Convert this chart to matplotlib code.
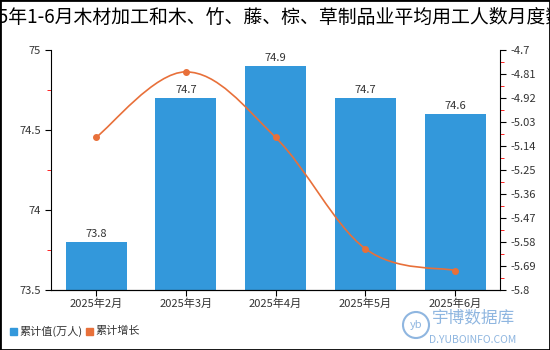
import matplotlib.pyplot as plt
import numpy as np
from matplotlib.path import Path
from matplotlib.patches import PathPatch, Rectangle, Ellipse
from matplotlib.ticker import MultipleLocator, FixedLocator

plt.rcParams['font.family'] = ['Noto Sans CJK SC', 'DejaVu Sans']

months = ['2025年2月', '2025年3月', '2025年4月', '2025年5月', '2025年6月']
workers = [73.8, 74.7, 74.9, 74.7, 74.6]  # 累计值(万人)
growth = [-5.10, -4.80, -5.10, -5.61, -5.71]  # 累计增长 %
right_ticks = [-4.7, -4.81, -4.92, -5.03, -5.14, -5.25, -5.36, -5.47, -5.58, -5.69, -5.8]

bar_color = '#3398DB'
line_color = '#E8703A'

fig = plt.figure(figsize=(5.5, 3.5), dpi=100)
ax = fig.add_axes([0.093, 0.171, 0.816, 0.686])
x = np.arange(len(months))

bars = ax.bar(x, workers, width=0.68, color=bar_color, zorder=2)
for xi, v in zip(x, workers):
    ax.text(xi, v + 0.02, f'{v}', ha='center', va='bottom', fontsize=8, color='#333333')

ax.set_xlim(-0.5, len(months) - 0.5)
ax.set_ylim(73.5, 75)
ax.set_yticks([73.5, 74, 74.5, 75])
ax.set_yticklabels(['73.5', '74', '74.5', '75'])
ax.yaxis.set_minor_locator(MultipleLocator(0.25))
ax.tick_params(axis='y', which='minor', length=3, color='red')
ax.tick_params(axis='y', which='major', length=4, labelsize=8, labelcolor='#333333')
ax.set_xticks(x)
ax.set_xticklabels(months)
ax.tick_params(axis='x', length=4, labelsize=8, labelcolor='#333333', pad=2)
ax.spines['top'].set_visible(False)
ax.spines['right'].set_visible(False)

ax2 = ax.twinx()
ax2.set_ylim(-5.8, -4.7)
ax2.yaxis.set_major_locator(FixedLocator(right_ticks))
ax2.set_yticklabels([f'{t:g}' for t in right_ticks])
minor = [(a + b) / 2 for a, b in zip(right_ticks[:-1], right_ticks[1:])]
ax2.yaxis.set_minor_locator(FixedLocator(minor))
ax2.tick_params(axis='y', which='minor', length=3, color='red')
ax2.tick_params(axis='y', which='major', length=4, labelsize=8, labelcolor='#333333')
ax2.spines['top'].set_visible(False)
ax2.spines['left'].set_visible(False)

# smooth curve through the points (Catmull-Rom style bezier)
pts = np.column_stack([x, growth]).astype(float)
verts = [tuple(pts[0])]
codes = [Path.MOVETO]
k = 0.35
for i in range(len(pts) - 1):
    p0 = pts[i - 1] if i > 0 else pts[i]
    p1, p2 = pts[i], pts[i + 1]
    p3 = pts[i + 2] if i + 2 < len(pts) else pts[i + 1]
    c1 = p1 + (p2 - p0) * k / 2
    c2 = p2 - (p3 - p1) * k / 2
    verts += [tuple(c1), tuple(c2), tuple(p2)]
    codes += [Path.CURVE4] * 3
ax2.add_patch(PathPatch(Path(verts, codes), facecolor='none', edgecolor=line_color, lw=1.2, zorder=3))
ax2.plot(x, growth, 'o', color=line_color, markersize=4, zorder=4)

fig.text(0.5, 0.95, '2025年1-6月木材加工和木、竹、藤、棕、草制品业平均用工人数月度数据',
         ha='center', va='center', fontsize=13.6, color='black')

# legend
fig.patches.append(Rectangle((10 / 550, 1 - 335 / 350), 7 / 550, 7 / 350, transform=fig.transFigure,
                             color=bar_color))
fig.text(19 / 550, 1 - 331 / 350, '累计值(万人)', fontsize=8, va='center', color='#333333')
fig.patches.append(Rectangle((86 / 550, 1 - 335 / 350), 7 / 550, 7 / 350, transform=fig.transFigure,
                             color=line_color))
fig.text(95 / 550, 1 - 331 / 350, '累计增长', fontsize=8, va='center', color='#333333')

# watermark
wm = '#8FB6E0'
fig.patches.append(Ellipse((416 / 550, 1 - 325 / 350), 26 / 550, 26 / 350, transform=fig.transFigure,
                           facecolor='none', edgecolor=wm, lw=1.5))
fig.text(416 / 550, 1 - 325 / 350, 'yb', fontsize=8, ha='center', va='center', color=wm, style='italic')
fig.text(473 / 550, 1 - 318 / 350, '宇博数据库', fontsize=12, ha='center', va='center', color=wm)
fig.text(473 / 550, 1 - 340 / 350, 'D.YUBOINFO.COM', fontsize=7.5, ha='center', va='center', color=wm)

fig.patches.append(Rectangle((0, 0), 1, 1, transform=fig.transFigure, fill=False,
                             edgecolor='black', lw=2))

plt.savefig('out.png', dpi=100)
